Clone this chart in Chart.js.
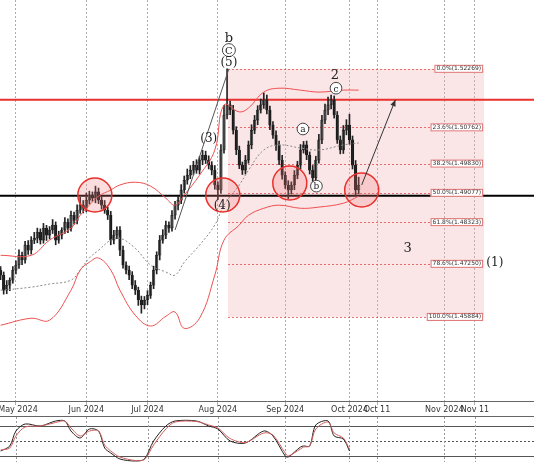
<!DOCTYPE html>
<html><head><meta charset="utf-8">
<script src="https://cdn.jsdelivr.net/npm/chart.js@4.4.1/dist/chart.umd.min.js"></script>
<style>
body{margin:0;background:#fff;overflow:hidden}
#wrap{position:absolute;left:0;top:0;width:534px;height:416px}
#wrap2{position:absolute;left:0;top:416px;width:534px;height:46px;border-top:1px solid #666}
</style></head><body>
<div id="wrap"><canvas id="main"></canvas></div>
<div id="wrap2"><canvas id="stoch"></canvas></div>
<script>
// barras diarias, indice 0 = 1 de maio de 2024
const primeiroIdx = -5;
const fechamentos = [1.4696,1.4657,1.4670,1.4683,1.4709,1.4722,
1.4747,1.4735,1.4773,1.4760,1.4786, 1.4791,1.4807,1.4786,1.4817,1.4799,
1.4812,1.4825,1.4786,1.4799,1.4812, 1.4832,1.4817,1.4850,1.4837,1.4863,
1.4876,1.4868,1.4889,1.4902,1.4894, 1.4910,1.4889,1.4876,1.4863,1.4850,
1.4786,1.4799,1.4812,1.4760,1.4722, 1.4709,1.4696,1.4670,1.4657,1.4632,
1.4619,1.4632,1.4644,1.4670,1.4709, 1.4747,1.4786,1.4799,1.4825,1.4817,
1.4850,1.4876,1.4889,1.4915,1.4940, 1.4953,1.4966,1.4979,1.4966,1.4992,
1.5005,1.4992,1.4979,1.4966,1.4928, 1.4915,1.5018,1.5108,1.5134,1.5121,
1.5069,1.5018,1.4979,1.4966,1.4992, 1.5031,1.5069,1.5095,1.5121,1.5134,
1.5147,1.5121,1.5082,1.5056,1.5031, 1.4992,1.4953,1.4928,1.4915,1.4928,
1.4953,1.4979,1.5018,1.5031,1.5005, 1.4966,1.4946,1.4992,1.5044,1.5095,
1.5121,1.5134,1.5147,1.5108,1.5044, 1.5018,1.5069,1.5082,1.5044,1.4979,
1.4915,1.4928];
// pavios em pips
const pavioCima = [10,8,12,6,9,11, 14,8,10,12,9, 15,10,8,12,7, 9,14,8,10,6,
12,9,11,8,14, 20,12,18,10,8, 15,10,9,12,8, 10,12,8,9,11, 8,10,9,12,8,
10,9,12,8,10, 9,12,14,10,8, 12,10,9,14,11, 16,12,10,14,9, 12,10,11,9,12,
8,14,25,93,10, 12,9,10,8,12, 10,14,12,11,15, 18,12,10,9,11, 10,12,9,11,8,
12,10,14,9,10, 8,12,10,14,12, 15,20,12,10,9, 10,12,14,28,10, 12,20];
const pavioBaixo = [12,10,9,14,8,10, 9,12,8,11,10, 9,12,10,8,14, 10,9,12,8,10,
9,12,8,10,9, 8,12,9,10,8, 12,9,10,8,11, 12,10,9,14,8, 10,12,9,11,14,
21,10,12,8,9, 10,12,8,9,11, 8,10,12,9,8, 10,9,12,8,10, 12,9,10,12,11,
25,9,8,10,12, 10,12,9,11,10, 8,10,9,12,8, 9,10,12,8,14, 12,10,9,22,10,
12,9,10,8,12, 10,9,12,8,10, 9,12,10,8,9, 10,9,12,11,10, 14,10];

// bandas de bollinger (pontos amostrados)
const bandaIdx = [-5,5,11,18,21,24,27,31,34,39,44,49,52,55,60,65,68,73,76,81,86,93,99,107,112];
const bandaSup = [1.4747,1.4747,1.4786,1.4817,1.4850,1.4876,1.4899,1.4915,1.4928,1.4935,1.4925,1.4894,1.4876,1.4902,1.4953,1.5018,1.5134,1.5116,1.5126,1.5167,1.5177,1.5172,1.5167,1.5172,1.5172];
const bandaInf = [1.4567,1.4585,1.4580,1.4657,1.4709,1.4729,1.4740,1.4709,1.4657,1.4593,1.4565,1.4590,1.4601,1.4559,1.4585,1.4696,1.4786,1.4825,1.4850,1.4868,1.4876,1.4868,1.4871,1.4881,1.4899];
const bandaMeio = [1.4657,1.4665,1.4673,1.4683,1.4709,1.4740,1.4760,1.4786,1.4791,1.4765,1.4722,1.4704,1.4696,1.4729,1.4773,1.4825,1.4876,1.4928,1.4966,1.5018,1.5031,1.5023,1.5018,1.5031,1.5036];

// fibonacci
const fibNiveis = ["0.0%","23.6%","38.2%","50.0%","61.8%","78.6%","100.0%"];
const fibPrecos = [1.52269,1.50762,1.49830,1.49077,1.48323,1.47250,1.45884];
const fibInicio = 69.3, fibFim = 153;
const linhaVermelha = 1.5147, linhaPreta = 1.4900;

// eixo x
const ticksIdx = [0,23,43,66,88,109,118,140,150];
const ticksTxt = ["May 2024","Jun 2024","Jul 2024","Aug 2024","Sep 2024","Oct 2024","Oct 11","Nov 2024","Nov 11"];

// marcacoes de ondas
const rotulos = [
  {t:"b",x:69.6,y:1.5306,s:13},{t:"C",x:69.6,y:1.5275,s:10,c:true},{t:"(5)",x:69.6,y:1.5244,s:12},
  {t:"(3)",x:63,y:1.5049,s:12},{t:"(4)",x:67.4,y:1.4876,s:12},
  {t:"2",x:104.2,y:1.5211,s:13},{t:"c",x:104.6,y:1.5177,s:9,c:true},
  {t:"a",x:93.8,y:1.5072,s:9,c:true},{t:"b",x:98.2,y:1.4925,s:9,c:true},
  {t:"3",x:128,y:1.4768,s:13},{t:"(1)",x:156.5,y:1.4729,s:12}];
const circulosIdx = [25.8,67.6,89.5,113];
const circulosPreco = [1.4902,1.4902,1.4933,1.4915];

// estocastico
const estIdx = [-5,-2,0,3,8,13,16,18,21,24,27,29,31,34,39,42,45,49,52,59,63,66,70,75,81,84,88,89,93,94,96,98,102,104,107,109];
const estK = [30,40,70,84,80,90,90,70,56,74,70,36,26,14,10,14,50,80,90,90,80,74,50,46,70,60,20,18,38,40,40,82,90,60,54,30];
const estD = [32,36,60,78,80,87,90,76,60,70,70,42,30,18,11,13,42,74,88,89,82,76,55,47,66,62,26,20,34,38,40,74,88,66,56,34];

const xMin = -5.2, xMax = 169.3;

const pavios = [], corpos = [], coresCorpo = [];
fechamentos.forEach((c, i) => {
  const o = i === 0 ? c + 0.0012 : fechamentos[i - 1];
  const x = primeiroIdx + i;
  pavios.push({x: x, y: [Math.min(o, c) - pavioBaixo[i] / 10000, Math.max(o, c) + pavioCima[i] / 10000]});
  corpos.push({x: x, y: o === c ? [o, c + 0.0002] : [o, c]});
  coresCorpo.push(c >= o ? "#ffffff" : "#000000");
});
const pts = (xs, ys) => xs.map((x, i) => ({x: x, y: ys[i]}));

const desenhos = {
  id: "desenhos",
  beforeDatasetsDraw(chart) {
    const {ctx, scales: {x, y}, chartArea: a} = chart;
    ctx.save();
    ctx.fillStyle = "rgba(240,170,175,0.3)";
    ctx.fillRect(x.getPixelForValue(fibInicio), y.getPixelForValue(fibPrecos[0]),
      x.getPixelForValue(fibFim) - x.getPixelForValue(fibInicio),
      y.getPixelForValue(fibPrecos[6]) - y.getPixelForValue(fibPrecos[0]));
    ctx.setLineDash([2, 2]);
    ctx.strokeStyle = "rgba(220,60,60,0.7)";
    ctx.lineWidth = 1;
    fibPrecos.forEach(p => {
      const py = Math.round(y.getPixelForValue(p)) + 0.5;
      ctx.beginPath(); ctx.moveTo(x.getPixelForValue(fibInicio), py); ctx.lineTo(x.getPixelForValue(fibFim), py); ctx.stroke();
    });
    ctx.setLineDash([]);
    ctx.strokeStyle = "#e8312c"; ctx.lineWidth = 2;
    let py = y.getPixelForValue(linhaVermelha);
    ctx.beginPath(); ctx.moveTo(a.left, py); ctx.lineTo(a.right, py); ctx.stroke();
    ctx.strokeStyle = "#000"; ctx.lineWidth = 2;
    py = y.getPixelForValue(linhaPreta);
    ctx.beginPath(); ctx.moveTo(a.left, py); ctx.lineTo(a.right, py); ctx.stroke();
    // rotulos do eixo x
    ctx.font = "8px 'DejaVu Sans'"; ctx.fillStyle = "#333"; ctx.textAlign = "center"; ctx.textBaseline = "top";
    ticksIdx.forEach((t, i) => {
      const tx = Math.max(x.getPixelForValue(t), 18);
      ctx.fillText(ticksTxt[i], tx, a.bottom + 5);
    });
    ctx.restore();
  },
  afterDatasetsDraw(chart) {
    const {ctx, scales: {x, y}} = chart;
    ctx.save();
    circulosIdx.forEach((ci, i) => {
      ctx.beginPath();
      ctx.arc(x.getPixelForValue(ci), y.getPixelForValue(circulosPreco[i]), 17, 0, Math.PI * 2);
      ctx.fillStyle = "rgba(240,120,120,0.25)"; ctx.fill();
      ctx.strokeStyle = "#e8312c"; ctx.lineWidth = 1.5; ctx.stroke();
    });
    ctx.strokeStyle = "#555"; ctx.lineWidth = 1;
    ctx.beginPath(); ctx.moveTo(x.getPixelForValue(52), y.getPixelForValue(1.4812));
    ctx.lineTo(x.getPixelForValue(69.6), y.getPixelForValue(1.5227)); ctx.stroke();
    const ax0 = x.getPixelForValue(113), ay0 = y.getPixelForValue(1.4928);
    const ax1 = x.getPixelForValue(124), ay1 = y.getPixelForValue(1.5147);
    ctx.strokeStyle = "#333";
    ctx.beginPath(); ctx.moveTo(ax0, ay0); ctx.lineTo(ax1, ay1); ctx.stroke();
    const ang = Math.atan2(ay1 - ay0, ax1 - ax0);
    ctx.fillStyle = "#333"; ctx.beginPath(); ctx.moveTo(ax1, ay1);
    ctx.lineTo(ax1 - 7 * Math.cos(ang - 0.4), ay1 - 7 * Math.sin(ang - 0.4));
    ctx.lineTo(ax1 - 7 * Math.cos(ang + 0.4), ay1 - 7 * Math.sin(ang + 0.4)); ctx.fill();
    ctx.font = "6px 'DejaVu Sans'"; ctx.textAlign = "right"; ctx.textBaseline = "middle";
    fibPrecos.forEach((p, i) => {
      const t = fibNiveis[i] + "(" + p.toFixed(5) + ")";
      const w = ctx.measureText(t).width + 4;
      const px = x.getPixelForValue(fibFim) - 1, pyy = y.getPixelForValue(p);
      ctx.fillStyle = "#fff"; ctx.fillRect(px - w, pyy - 4, w, 8);
      ctx.strokeStyle = "#e07070"; ctx.strokeRect(px - w + 0.5, pyy - 3.5, w - 1, 7);
      ctx.fillStyle = "#333"; ctx.fillText(t, px - 2, pyy);
    });
    ctx.textAlign = "center";
    rotulos.forEach(r => {
      const px = x.getPixelForValue(r.x), pyy = y.getPixelForValue(r.y);
      ctx.font = r.s + "px 'DejaVu Serif'"; ctx.fillStyle = "#222";
      if (r.c) {
        ctx.beginPath(); ctx.arc(px, pyy, r.s * 0.65, 0, Math.PI * 2);
        ctx.fillStyle = "#fff"; ctx.fill(); ctx.strokeStyle = "#444"; ctx.lineWidth = 1; ctx.stroke();
        ctx.fillStyle = "#222";
      }
      ctx.fillText(r.t, px, pyy + 1);
    });
    ctx.restore();
  }
};

const eixoX = {
  type: "linear", min: xMin, max: xMax, offset: false,
  afterBuildTicks: ax => { ax.ticks = ticksIdx.map(v => ({value: v})); },
  ticks: {display: false},
  afterFit: ax => { ax.height = 15; },
  grid: {color: "#999", tickLength: 4, lineWidth: 0.8, offset: false},
  border: {display: true, color: "#666", dash: [2, 2]}
};

new Chart(document.getElementById("main"), {
  type: "bar",
  data: {datasets: [
    {type: "line", data: pts(bandaIdx, bandaSup), borderColor: "#ee5050", borderWidth: 1, pointRadius: 0, tension: 0.4},
    {type: "line", data: pts(bandaIdx, bandaInf), borderColor: "#ee5050", borderWidth: 1, pointRadius: 0, tension: 0.4},
    {type: "line", data: pts(bandaIdx, bandaMeio), borderColor: "#888", borderWidth: 1, borderDash: [2, 2], pointRadius: 0, tension: 0.4},
    {data: pavios, backgroundColor: "#222", barThickness: 1, grouped: false},
    {data: corpos, backgroundColor: coresCorpo, borderColor: "#222", borderWidth: 0.8, borderSkipped: false, barThickness: 2.6, grouped: false}
  ]},
  options: {
    animation: false, responsive: true, maintainAspectRatio: false,
    layout: {padding: 0},
    plugins: {legend: {display: false}, tooltip: {enabled: false}},
    scales: {
      x: eixoX,
      y: {min: 1.4372, max: 1.5404, display: false}
    }
  },
  plugins: [desenhos]
});

const niveisEst = {
  id: "niveis",
  beforeDatasetsDraw(chart) {
    const {ctx, scales: {y}, chartArea: a} = chart;
    ctx.save();
    [[80, []], [50, [2, 2]], [20, []]].forEach(([v, d]) => {
      ctx.setLineDash(d); ctx.strokeStyle = "#555"; ctx.lineWidth = 1;
      const py = Math.round(y.getPixelForValue(v)) + 0.5;
      ctx.beginPath(); ctx.moveTo(a.left, py); ctx.lineTo(a.right, py); ctx.stroke();
    });
    ctx.setLineDash([2, 2]); ctx.strokeStyle = "#999";
    ticksIdx.forEach(t => {
      const px = Math.round(chart.scales.x.getPixelForValue(t)) + 0.5;
      ctx.beginPath(); ctx.moveTo(px, a.top); ctx.lineTo(px, a.bottom); ctx.stroke();
    });
    ctx.restore();
  }
};

new Chart(document.getElementById("stoch"), {
  type: "line",
  data: {datasets: [
    {data: pts(estIdx, estD), borderColor: "#d06060", borderWidth: 1, pointRadius: 0, tension: 0.3},
    {data: pts(estIdx, estK), borderColor: "#222", borderWidth: 1, pointRadius: 0, tension: 0.3}
  ]},
  options: {
    animation: false, responsive: true, maintainAspectRatio: false,
    layout: {padding: 0},
    plugins: {legend: {display: false}, tooltip: {enabled: false}},
    scales: {
      x: {type: "linear", min: xMin, max: xMax, display: false},
      y: {min: 6, max: 98, display: false}
    }
  },
  plugins: [niveisEst]
});
</script>
</body></html>
